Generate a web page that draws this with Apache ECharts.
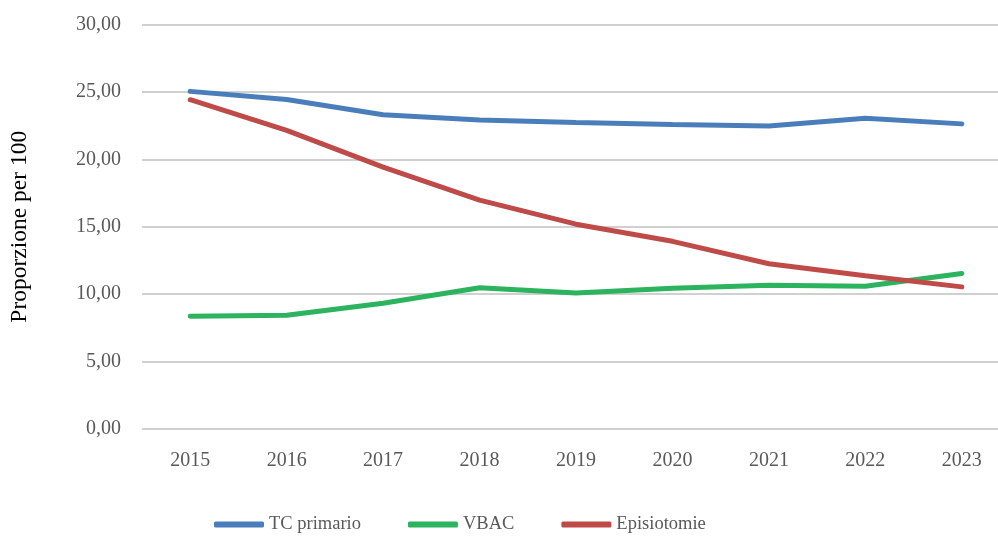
<!DOCTYPE html>
<html><head><meta charset="utf-8">
<script src="https://cdn.jsdelivr.net/npm/echarts@6/dist/echarts.min.js"></script>
<style>html,body{margin:0;padding:0;background:#fff}#c{width:998px;height:537px}</style>
</head><body><div id="c"></div>
<script>
const years = ['2015','2016','2017','2018','2019','2020','2021','2022','2023'];
const tcPrimario = [25.04, 24.44, 23.31, 22.92, 22.74, 22.59, 22.48, 23.05, 22.63];
const vbac = [8.37, 8.44, 9.33, 10.48, 10.08, 10.44, 10.67, 10.58, 11.54];
const episiotomie = [24.42, 22.15, 19.42, 16.98, 15.19, 13.92, 12.26, 11.36, 10.54];
const seriesNames = ['TC primario', 'VBAC', 'Episiotomie'];
const font = 'Liberation Serif';
const chart = echarts.init(document.getElementById('c'));
const mk = (name, data, color) => ({
  name, type: 'line', data, symbol: 'none', smooth: false,
  lineStyle: { width: 5, color, cap: 'round' }, itemStyle: { color }
});
const legendText = { color: '#595959', fontSize: 18.5, fontFamily: font };
chart.setOption({
  animation: false,
  textStyle: { fontFamily: font },
  grid: { left: 142, width: 868, top: 24.5, height: 404.5, containLabel: false, outerBoundsMode: 'none' },
  xAxis: {
    type: 'category', data: years, boundaryGap: true,
    axisLine: { show: false }, axisTick: { show: false },
    axisLabel: { color: '#595959', fontSize: 20, fontFamily: font, margin: 22 }
  },
  yAxis: {
    type: 'value', min: 0, max: 30, interval: 5,
    name: 'Proporzione per 100', nameLocation: 'middle', nameGap: 110, nameRotate: 90,
    nameTextStyle: { color: '#000', fontSize: 23.5, fontFamily: font },
    axisLine: { show: false }, axisTick: { show: false },
    axisLabel: { color: '#595959', fontSize: 20, fontFamily: font, margin: 21,
      formatter: v => v.toFixed(2).replace('.', ',') },
    splitLine: { lineStyle: { color: '#d0d0d0', width: 2 } }
  },
  legend: {
    top: 515, left: 214, padding: 0, itemWidth: 50, itemHeight: 6, itemGap: 47,
    icon: 'roundRect',
    textStyle: legendText,
    data: seriesNames
  },
  series: [
    mk(seriesNames[0], tcPrimario, '#4a7ebb'),
    mk(seriesNames[1], vbac, '#2bb35e'),
    mk(seriesNames[2], episiotomie, '#be4b48')
  ]
});
</script></body></html>
